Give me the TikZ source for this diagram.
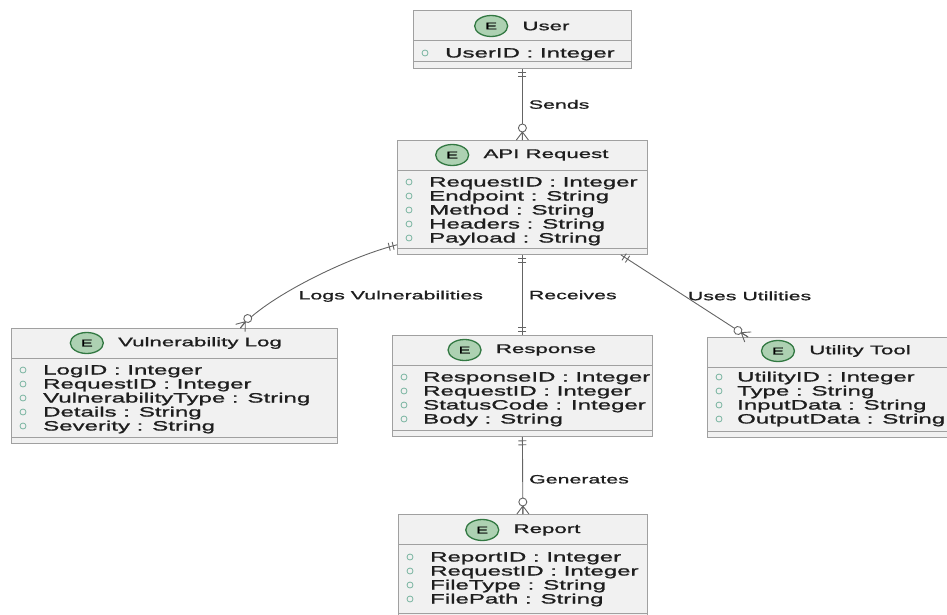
\documentclass[tikz,border=0pt]{standalone}
\usepackage{fontspec}
\setmainfont{Liberation Sans}[FakeStretch=1.78,FakeBold=1.2]
\usetikzlibrary{positioning,shapes.geometric,decorations.markings}

\definecolor{erBoxFill}{RGB}{241,241,241}
\definecolor{erBoxLine}{RGB}{160,160,160}
\definecolor{erLink}{RGB}{100,100,100}
\definecolor{erText}{RGB}{30,30,30}
\definecolor{erBadge}{RGB}{173,209,178}
\definecolor{erBadgeLine}{RGB}{50,120,66}
\definecolor{erBullet}{RGB}{120,180,160}

\begin{document}
\begin{tikzpicture}[x=1pt,y=-1pt,
  entity/.style={draw=erBoxLine,fill=erBoxFill,line width=0.8pt,anchor=north west,inner sep=0pt},
  bandline/.style={draw=erBoxLine,line width=0.6pt},
  title/.style={inner sep=0pt,text=erText,font=\fontsize{12.5}{12.5}\selectfont},
  badge/.style={ellipse,draw=erBadgeLine,fill=erBadge,line width=1.3pt,minimum width=33pt,minimum height=21pt,inner sep=0pt,font=\fontsize{10}{10}\selectfont},
  attr/.style={anchor=base west,inner sep=0pt,text=erText,font=\fontsize{13.5}{14}\selectfont},
  attrdot/.style={draw=erBullet,line width=0.8pt},
  link/.style={draw=erLink,line width=0.9pt},
  linkmark/.style={draw=erLink,line width=0.9pt},
  lbl/.style={inner sep=0pt,text=erText,font=\fontsize{12}{12}\selectfont},
  one start/.style={postaction={decorate,decoration={markings,mark=at position 0 with {\draw[linkmark] (4,-4) -- (4,4) (8,-4) -- (8,4);}}}},
  one end/.style={postaction={decorate,decoration={markings,mark=at position 1 with {\draw[linkmark] (-4,-4) -- (-4,4) (-8,-4) -- (-8,4);}}}},
  many end/.style={postaction={decorate,decoration={markings,mark=at position 1 with {\draw[linkmark] (-8,0) -- (0,-6) (-8,0) -- (0,0) (-8,0) -- (0,6); \draw[linkmark,fill=white] (-12,0) circle (4);}}}}]
\useasboundingbox (0,0) rectangle (947,615);

% entity boxes
\node[entity,minimum width=218pt,minimum height=58pt] (user) at (413,10) {};
\node[entity,minimum width=250pt,minimum height=114pt] (api) at (397,140) {};
\node[entity,minimum width=326pt,minimum height=115pt] (vuln) at (11,328) {};
\node[entity,minimum width=260pt,minimum height=101pt] (resp) at (392,335) {};
\node[entity,minimum width=256pt,minimum height=100pt] (util) at (707,337) {};
\node[entity,minimum width=249pt,minimum height=108pt] (report) at (398,514) {};

\foreach \ent in {user,api,vuln,resp,util} {
  \draw[bandline] ([yshift=-30pt]\ent.north west) -- ([yshift=-30pt]\ent.north east);
  \draw[bandline] ([yshift=7pt]\ent.south west) -- ([yshift=7pt]\ent.south east);
}
\draw[bandline] ([yshift=-30pt]report.north west) -- ([yshift=-30pt]report.north east);
\draw[bandline] ([yshift=10pt]report.south west) -- ([yshift=10pt]report.south east);

% headers
\node[title] (userT) at (546,26) {User};
\node[badge,left=14pt of userT] (userE) {E};
\node[title] (apiT) at (546,155) {API Request};
\node[badge,left=14pt of apiT] (apiE) {E};
\node[title] (vulnT) at (200,343) {Vulnerability Log};
\node[badge,left=14pt of vulnT] (vulnE) {E};
\node[title] (respT) at (546,350) {Response};
\node[badge,left=14pt of respT] (respE) {E};
\node[title] (utilT) at (860,351) {Utility Tool};
\node[badge,left=14pt of utilT] (utilE) {E};
\node[title] (reportT) at (547,530) {Report};
\node[badge,left=14pt of reportT] (reportE) {E};

% attributes
\foreach \txt [count=\i] in {UserID : Integer} {
  \draw[attrdot] (425,39+14*\i) circle (3);
  \node[attr] (userA\i) at (445,43.5+14*\i) {\txt};
}
\foreach \txt [count=\i] in {RequestID : Integer,Endpoint : String,Method : String,Headers : String,Payload : String} {
  \draw[attrdot] (409,168+14*\i) circle (3);
  \node[attr] (apiA\i) at (429,172.5+14*\i) {\txt};
}
\foreach \txt [count=\i] in {LogID : Integer,RequestID : Integer,VulnerabilityType : String,Details : String,Severity : String} {
  \draw[attrdot] (23,356+14*\i) circle (3);
  \node[attr] (vulnA\i) at (43,360.5+14*\i) {\txt};
}
\foreach \txt [count=\i] in {ResponseID : Integer,RequestID : Integer,StatusCode : Integer,Body : String} {
  \draw[attrdot] (404,363+14*\i) circle (3);
  \node[attr] (respA\i) at (423,367.5+14*\i) {\txt};
}
\foreach \txt [count=\i] in {UtilityID : Integer,Type : String,InputData : String,OutputData : String} {
  \draw[attrdot] (719,363+14*\i) circle (3);
  \node[attr] (utilA\i) at (737,367.5+14*\i) {\txt};
}
\foreach \txt [count=\i] in {ReportID : Integer,RequestID : Integer,FileType : String,FilePath : String} {
  \draw[attrdot] (410,543+14*\i) circle (3);
  \node[attr] (reportA\i) at (430,547.5+14*\i) {\txt};
}

% relations
\draw[link,one start,many end] (user.south) -- node[lbl,right=6pt] {Sends} (api.north);
\draw[link,one start,one end] (api.south) -- node[lbl,right=6pt] {Receives} (resp.north);
\draw[link,one start,many end] (resp.south) -- node[lbl,right=6pt,pos=0.55] {Generates} (report.north);
\draw[link,one start,many end] ([yshift=10pt]api.south west) .. controls (345,258) and (262,300) .. ([xshift=66pt]vuln.north)
  node[lbl,pos=0.66,right=18pt] {Logs Vulnerabilities};
\draw[link,one start,many end] ([xshift=-27pt]api.south east) -- node[lbl,right=3pt] {Uses Utilities} ([xshift=41pt]util.north west);
\end{tikzpicture}
\end{document}
